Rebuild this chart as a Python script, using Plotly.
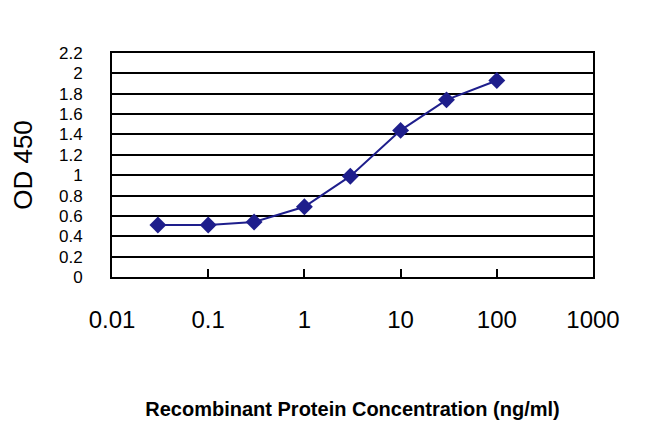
import plotly.graph_objects as go

concentration = [0.03, 0.1, 0.3, 1, 3, 10, 30, 100]
od450 = [0.51, 0.51, 0.54, 0.69, 0.99, 1.44, 1.74, 1.93]

x_tickvals = [0.01, 0.1, 1, 10, 100, 1000]
x_ticktext = ["0.01", "0.1", "1", "10", "100", "1000"]
y_tickvals = [0, 0.2, 0.4, 0.6, 0.8, 1.0, 1.2, 1.4, 1.6, 1.8, 2.0, 2.2]
y_ticktext = ["0", "0.2", "0.4", "0.6", "0.8", "1", "1.2", "1.4", "1.6", "1.8", "2", "2.2"]

fig = go.Figure()
fig.add_trace(go.Scatter(
    x=concentration, y=od450, mode="lines+markers",
    line=dict(color="#1e1e8c", width=2),
    marker=dict(symbol="diamond", size=13, color="#1e1e8c"),
    showlegend=False,
))

fig.update_layout(
    width=650, height=433,
    margin=dict(l=104, r=65, t=45, b=164),
    paper_bgcolor="white", plot_bgcolor="white",
    font=dict(family="Liberation Sans, Arial, sans-serif", color="black"),
    xaxis=dict(
        type="log", range=[-2, 3],
        tickvals=x_tickvals, ticktext=x_ticktext,
        tickfont=dict(size=24),
        ticks="inside", ticklen=8, tickwidth=2, tickcolor="black",
        ticklabelstandoff=20,
        showgrid=False, zeroline=False,
        showline=True, linecolor="black", linewidth=2, mirror=True,
        title=dict(text="Recombinant Protein Concentration (ng/ml)",
                   font=dict(size=20, weight="bold"), standoff=70),
    ),
    yaxis=dict(
        range=[0, 2.2],
        tickvals=y_tickvals, ticktext=y_ticktext,
        tickfont=dict(size=17),
        ticks="", ticklabelstandoff=24,
        showgrid=True, gridcolor="black", gridwidth=2,
        zeroline=False,
        showline=True, linecolor="black", linewidth=2, mirror=True,
        title=dict(text="OD 450", font=dict(size=26), standoff=22),
    ),
)

fig.write_html("out.html")
